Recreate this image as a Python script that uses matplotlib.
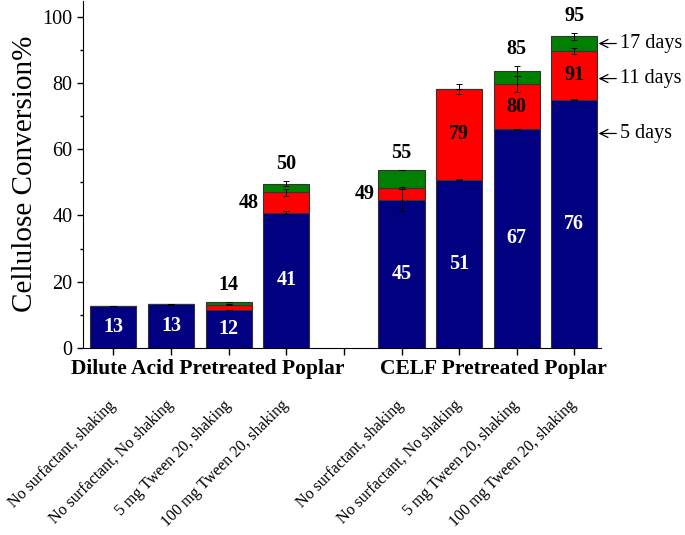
import numpy as np
from matplotlib import pyplot as plt
from matplotlib.ticker import MultipleLocator

plt.rcParams['font.family'] = ['Liberation Serif', 'DejaVu Serif']

# bar positions (slot 5 is the gap between the two groups)
pos = [1, 2, 3, 4, 6, 7, 8, 9]
conditions = ['No surfactant, shaking', 'No surfactant, No shaking',
              '5 mg Tween 20, shaking', '100 mg Tween 20, shaking',
              'No surfactant, shaking', 'No surfactant, No shaking',
              '5 mg Tween 20, shaking', '100 mg Tween 20, shaking']
groups = ['Dilute Acid Pretreated Poplar', 'CELF Pretreated Poplar']
group_x = [2.64, 7.6]

# cumulative conversion (%) at each time point
day5 = [12.5, 13.1, 11.4, 40.8, 44.8, 50.8, 66.1, 75.0]
day11 = [12.5, 13.1, 13.0, 47.0, 48.3, 78.3, 79.7, 89.7]
day17 = [12.5, 13.1, 13.7, 49.6, 53.8, 78.3, 83.7, 94.2]
err5 = [0, 0.2, 0, 0.5, 3.3, 0.2, 0.2, 0.2]
err11 = [0, 0, 0.2, 1.0, 0.2, 1.5, 2.5, 1.0]
err17 = [0, 0, 0, 0.7, 0, 0, 1.5, 1.0]

lab5 = ['13', '13', '12', '41', '45', '51', '67', '76']
lab11 = ['', '', '', '48', '49', '79', '80', '91']
lab17 = ['', '', '14', '50', '55', '', '85', '95']

fig = plt.figure(figsize=(6.85, 5.35), dpi=100)
ax = fig.add_axes([0.121, 0.35, 0.757, 0.649])

w = 0.8
d5 = np.array(day5); d11 = np.array(day11); d17 = np.array(day17)
ax.bar(pos, d5, w, color='#000080', edgecolor='#333333', lw=0.8, zorder=2)
ax.bar(pos, d11 - d5, w, bottom=d5, color='#ff0000', edgecolor='#333333', lw=0.8, zorder=2)
ax.bar(pos, d17 - d11, w, bottom=d11, color='#008000', edgecolor='#333333', lw=0.8, zorder=2)

for y, e in [(d5, err5), (d11, err11), (d17, err17)]:
  ax.errorbar(pos, y, yerr=e, fmt='none', ecolor='black', elinewidth=0.7,
              capsize=2.5, capthick=0.7, zorder=3)

# labels
for i, p in enumerate(pos):
  ax.text(p, d5[i] / 2, lab5[i], color='white', fontsize=14.5, fontweight='bold',
          ha='center', va='center', zorder=4)
  if lab11[i]:
    mid = (d5[i] + d11[i]) / 2
    if d11[i] - d5[i] > 8:
      ax.text(p, mid, lab11[i], color='black', fontsize=14.5, fontweight='bold',
              ha='center', va='center', zorder=4)
    else:
      ax.text(p - w / 2 - 0.07, mid, lab11[i], color='black', fontsize=14.5,
              fontweight='bold', ha='right', va='center', zorder=4)
  if lab17[i]:
    ax.text(p, d17[i] + err17[i] + 2.2, lab17[i], color='black', fontsize=14.5,
            fontweight='bold', ha='center', va='bottom', zorder=4)

# arrows to the last bar
days = ['5 days', '11 days', '17 days']
day_y = [64.8, 81.4, 92.0]
for t, y in zip(days, day_y):
  ax.annotate(t, xy=(pos[-1] + w / 2 + 0.02, y), xytext=(9.8, y), fontsize=14.5,
              va='center', ha='left', annotation_clip=False,
              arrowprops=dict(arrowstyle='->', color='black', lw=0.9,
                              shrinkA=1, shrinkB=0))

ax.set_xlim(0.47, 9.47)
ax.set_ylim(0, 105)
ax.set_xticks(range(1, 10))
ax.set_xticklabels([])
ax.yaxis.set_major_locator(MultipleLocator(20))
ax.yaxis.set_minor_locator(MultipleLocator(10))
ax.tick_params(axis='y', which='major', length=4, width=1, labelsize=14.5)
ax.tick_params(axis='y', which='minor', length=2.5, width=1)
ax.tick_params(axis='x', length=5, width=1)
for s in ['top', 'right']:
  ax.spines[s].set_visible(False)
ax.set_ylabel('Cellulose Conversion%', fontsize=21, labelpad=3)

tr = ax.get_xaxis_transform()
for x, g in zip(group_x, groups):
  ax.text(x, -0.06, g, transform=tr, fontsize=15.5, fontweight='bold',
          ha='center', va='center')

for x, t in zip(pos, conditions):
  ax.text(x, -0.159, t, transform=tr, fontsize=11.5, rotation=45,
          rotation_mode='anchor', ha='right', va='center')

fig.savefig('out.png', dpi=100)
